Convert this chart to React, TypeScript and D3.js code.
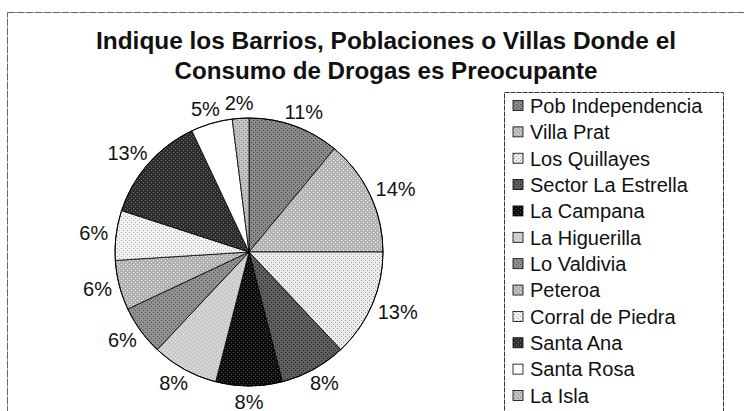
import React from "react";
import * as d3 from "d3";

const titleLines = [
  "Indique los Barrios, Poblaciones o Villas Donde el",
  "Consumo de Drogas es Preocupante",
];
const categories = [
  "Pob Independencia",
  "Villa Prat",
  "Los Quillayes",
  "Sector La Estrella",
  "La Campana",
  "La Higuerilla",
  "Lo Valdivia",
  "Peteroa",
  "Corral de Piedra",
  "Santa Ana",
  "Santa Rosa",
  "La Isla",
];
const values = [11, 14, 13, 8, 8, 8, 6, 6, 6, 13, 5, 2];

// styles (base grey, dot colour)
const baseFills = [
  "#8a8a8a", "#b4b4b4", "#ececec", "#5e5e5e", "#0c0c0c", "#cacaca",
  "#909090", "#b0b0b0", "#f2f2f2", "#2c2c2c", "#ffffff", "#c2c2c2",
];
const dotFills = [
  "#444", "#eee", "#999", "#222", "#555", "#eee",
  "#555", "#eee", "#aaa", "#777", "#ffffff", "#888",
];

const W = 744;
const H = 411;
const cx = 249;
const cy = 252;
const R = 134;
const labelFont = 20;
const legendFont = 20;

export default function App() {
  const pie = d3
    .pie<number>()
    .sort(null)
    .value((d) => d)
    .startAngle(0)
    .endAngle(2 * Math.PI);
  const arcs = pie(values);
  const arc = d3.arc<d3.PieArcDatum<number>>().innerRadius(0).outerRadius(R);
  const total = d3.sum(values);

  const legendX = 504;
  const legendY = 92;
  const legendW = 219;
  const rowY = d3
    .scaleLinear()
    .domain([0, categories.length - 1])
    .range([105.5, 395.5]);

  return (
    <svg
      width={W}
      height={H}
      style={{ position: "absolute", left: 0, top: 0, background: "#fff" }}
      fontFamily="Arial, 'Liberation Sans', sans-serif"
    >
      <defs>
        {baseFills.map((f, i) => (
          <pattern
            key={i}
            id={`pat${i}`}
            width={4}
            height={4}
            patternUnits="userSpaceOnUse"
          >
            <rect width={4} height={4} fill={f} />
            <rect x={0} y={0} width={1} height={1} fill={dotFills[i]} />
            <rect x={2} y={2} width={1} height={1} fill={dotFills[i]} />
            <rect x={3} y={1} width={1} height={1} fill={f} />
          </pattern>
        ))}
      </defs>
      {/* chart frame */}
      <rect
        x={7.5}
        y={12.5}
        width={W + 20}
        height={H + 20}
        fill="none"
        stroke="#666"
        strokeWidth={1}
        strokeDasharray="8 1"
      />
      {/* title */}
      <text
        x={386}
        y={49}
        textAnchor="middle"
        fontSize={23}
        fontWeight="bold"
        textLength={580}
        lengthAdjust="spacingAndGlyphs"
        fill="#111"
      >
        {titleLines[0]}
      </text>
      <text
        x={386}
        y={78.5}
        textAnchor="middle"
        fontSize={23}
        fontWeight="bold"
        textLength={423}
        lengthAdjust="spacingAndGlyphs"
        fill="#111"
      >
        {titleLines[1]}
      </text>
      {/* pie */}
      <g transform={`translate(${cx},${cy})`}>
        {arcs.map((a, i) => (
          <path
            key={i}
            d={arc(a) || ""}
            fill={`url(#pat${i})`}
            stroke="#000"
            strokeWidth={0.8}
          />
        ))}
        <circle r={R} fill="none" stroke="#000" strokeWidth={1} />
        {arcs.map((a, i) => {
          const mid = (a.startAngle + a.endAngle) / 2;
          const ux = Math.sin(mid);
          const uy = -Math.cos(mid);
          const txt = `${Math.round((values[i] / total) * 100)}%`;
          const w =
            (txt.length - 1) * 0.556 * labelFont + 0.889 * labelFont;
          const h = 15;
          const d = R + 8;
          const lx = d * ux + (ux * w) / 2;
          const ly = d * uy + (uy * h) / 2;
          return (
            <text
              key={i}
              x={lx}
              y={ly + 0.716 * labelFont * 0.5}
              textAnchor="middle"
              fontSize={labelFont}
              fill="#111"
            >
              {txt}
            </text>
          );
        })}
      </g>
      {/* legend */}
      <rect
        x={legendX + 0.5}
        y={legendY + 0.5}
        width={legendW}
        height={H}
        fill="#fff"
        stroke="#333"
        strokeWidth={1}
        strokeDasharray="5 1"
      />
      {categories.map((c, i) => (
        <g key={c}>
          <rect
            x={513}
            y={rowY(i) - 5}
            width={10}
            height={10}
            fill={`url(#pat${i})`}
            stroke="#000"
            strokeWidth={0.8}
          />
          <text
            x={530}
            y={rowY(i) + 7.3}
            fontSize={legendFont}
            fill="#111"
          >
            {c}
          </text>
        </g>
      ))}
    </svg>
  );
}
